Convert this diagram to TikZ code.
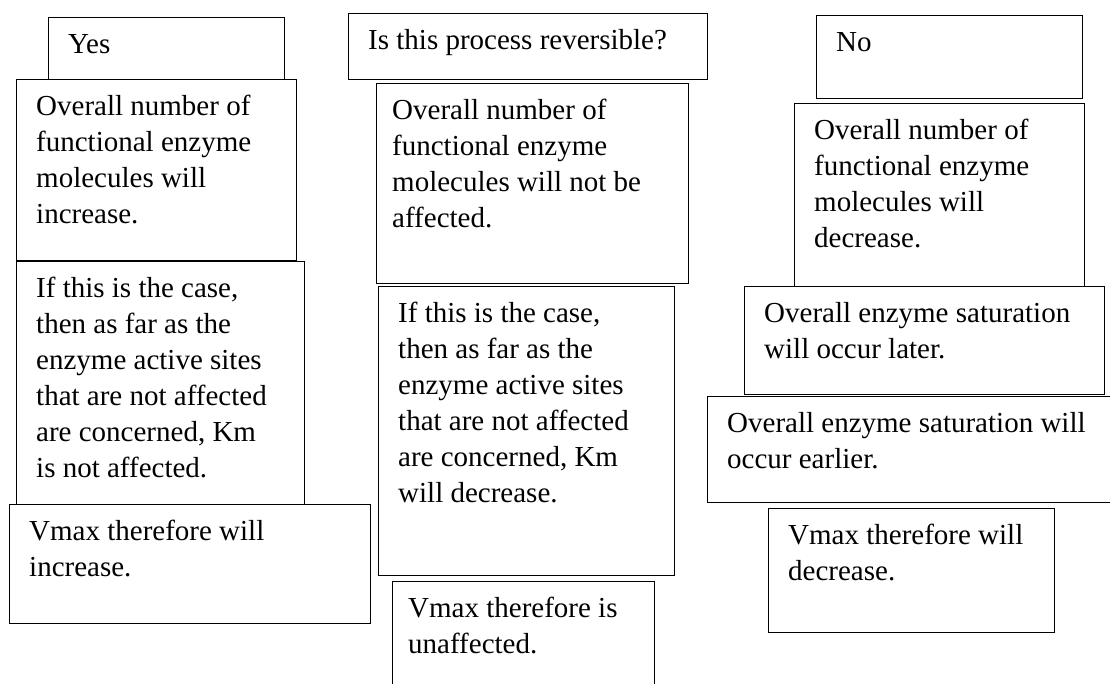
\documentclass[tikz,border=0pt]{standalone}
\usepackage{fontspec}
\setmainfont{Liberation Serif}
\usetikzlibrary{positioning}

\begin{document}
\begin{tikzpicture}[
        x=1pt, y=-1pt,
        node distance=11pt and 20pt,
        box/.style={rectangle, draw=black, line width=1pt, anchor=north west, inner sep=0pt},
        txt/.style={inner sep=0pt, align=left, font=\fontsize{29}{36}\selectfont}
      ]
        \clip (0,0) rectangle (1110,684);
        % left column (Yes)
        \node[box, minimum width=236pt, minimum height=62pt] (yes) at (48,17) {};
        \node[box, minimum width=280pt, minimum height=181pt] (incnum) at (16,79) {};
        \node[box, minimum width=288pt, minimum height=243pt] (kmsame) at (16,261) {};
        \node[box, minimum width=361pt, minimum height=119pt] (vinc) at (9,504) {};
        \node[txt, below right=of yes.north west] (yes-t) {\strut Yes};
        \node[txt, below right=of incnum.north west] (incnum-t) {\strut Overall number of\\functional enzyme\\molecules will\\increase.};
        \node[txt, below right=of kmsame.north west] (kmsame-t) {\strut If this is the case,\\then as far as the\\enzyme active sites\\that are not affected\\are concerned, Km\\is not affected.};
        \node[txt, below right=of vinc.north west] (vinc-t) {\strut Vmax therefore will\\increase.};
        % middle column (question)
        \node[box, minimum width=359pt, minimum height=66pt] (quest) at (348,13) {};
        \node[box, minimum width=312pt, minimum height=200pt] (samenum) at (376,83) {};
        \node[box, minimum width=296pt, minimum height=289pt] (kmdec) at (378,286) {};
        \node[box, minimum width=262pt, minimum height=130pt] (vsame) at (392,581) {};
        \node[txt, below right=of quest.north west] (quest-t) {\strut Is this process reversible?};
        \node[txt, below right=11pt and 16pt of samenum.north west] (samenum-t) {\strut Overall number of\\functional enzyme\\molecules will not be\\affected.};
        \node[txt, below right=of kmdec.north west] (kmdec-t) {\strut If this is the case,\\then as far as the\\enzyme active sites\\that are not affected\\are concerned, Km\\will decrease.};
        \node[txt, below right=11pt and 16pt of vsame.north west] (vsame-t) {\strut Vmax therefore is\\unaffected.};
        % right column (No)
        \node[box, minimum width=266pt, minimum height=83pt] (no) at (816,15) {};
        \node[box, minimum width=290pt, minimum height=183pt] (decnum) at (794,103) {};
        \node[box, minimum width=360pt, minimum height=108pt] (satlate) at (744,286) {};
        \node[box, minimum width=413pt, minimum height=106pt] (satearly) at (707,396) {};
        \node[box, minimum width=286pt, minimum height=124pt] (vdec) at (768,508) {};
        \node[txt, below right=of no.north west] (no-t) {\strut No};
        \node[txt, below right=of decnum.north west] (decnum-t) {\strut Overall number of\\functional enzyme\\molecules will\\decrease.};
        \node[txt, below right=of satlate.north west] (satlate-t) {\strut Overall enzyme saturation\\will occur later.};
        \node[txt, below right=of satearly.north west] (satearly-t) {\strut Overall enzyme saturation will\\occur earlier.};
        \node[txt, below right=of vdec.north west] (vdec-t) {\strut Vmax therefore will\\decrease.};
      \end{tikzpicture}
\end{document}
